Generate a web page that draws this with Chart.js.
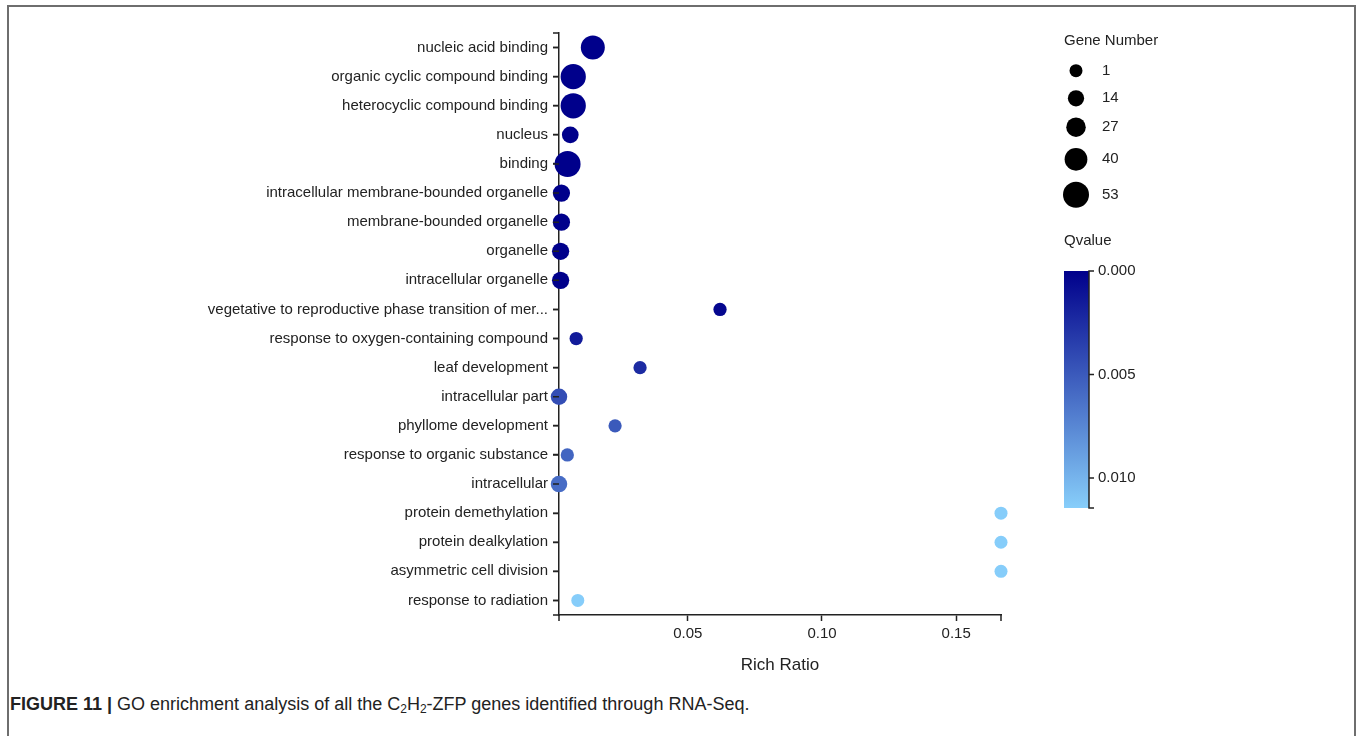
<!DOCTYPE html>
<html>
<head>
<meta charset="utf-8">
<script src="https://cdn.jsdelivr.net/npm/chart.js@4.4.1/dist/chart.umd.min.js"></script>
<style>
    body { margin: 0; background: #fff; width: 1357px; height: 736px; overflow: hidden; position: relative; }
    #frame { position: absolute; left: 7px; top: 5px; width: 1349px; height: 800px; border: 2px solid #6e6e6e; box-sizing: border-box; }
    #mainCanvas { position: absolute; left: 0; top: 0; }
    #caption { position: absolute; left: 10px; top: 694px; font-family: "Liberation Sans", Arial, sans-serif; font-size: 18px; color: #222; white-space: nowrap; }
    #caption b { font-weight: bold; }
    #caption sub { font-size: 12px; vertical-align: -3px; line-height: 0; }
</style>
</head>
<body>
<div id="frame"></div>
<canvas id="mainCanvas" width="1357" height="690"></canvas>
<div id="caption"><b>FIGURE 11 |</b> GO enrichment analysis of all the C<sub>2</sub>H<sub>2</sub>-ZFP genes identified through RNA-Seq.</div>
<script>
const terms = [
    "nucleic acid binding",
    "organic cyclic compound binding",
    "heterocyclic compound binding",
    "nucleus",
    "binding",
    "intracellular membrane-bounded organelle",
    "membrane-bounded organelle",
    "organelle",
    "intracellular organelle",
    "vegetative to reproductive phase transition of mer...",
    "response to oxygen-containing compound",
    "leaf development",
    "intracellular part",
    "phyllome development",
    "response to organic substance",
    "intracellular",
    "protein demethylation",
    "protein dealkylation",
    "asymmetric cell division",
    "response to radiation"
];
const richRatio = [0.0146, 0.0073, 0.0073, 0.0062, 0.0052, 0.0029, 0.0029, 0.0026, 0.0026, 0.0620,
                   0.0084, 0.0322, 0.0020, 0.0229, 0.0051, 0.0020, 0.1667, 0.1667, 0.1667, 0.0090];
const geneNumber = [45, 50, 50, 16, 53, 18, 18, 18, 18, 2, 2, 2, 15, 2, 2, 15, 1, 1, 1, 1];
const qValue = [0.00001, 0.00001, 0.00001, 0.00002, 0.00001, 0.00002, 0.00002, 0.00002, 0.00002, 0.0004,
                0.0015, 0.0024, 0.0043, 0.0050, 0.0056, 0.0060, 0.0114, 0.0114, 0.0114, 0.0114];

const geneLegend = [1, 14, 27, 40, 53];
const qTicks = [0, 0.005, 0.010];
const qRange = [0, 0.01145];
const xTicks = [0.05, 0.10, 0.15];

const AXIS_COLOR = "#222";
const TEXT_COLOR = "#222";
const FONT = '"Liberation Sans", Arial, sans-serif';
const LOW = [0, 0, 139];       // darkblue
const HIGH = [135, 206, 250];  // lightskyblue

function qColor(q) {
    let t = (q - qRange[0]) / (qRange[1] - qRange[0]);
    t = Math.max(0, Math.min(1, t));
    const c = LOW.map((v, i) => Math.round(v + (HIGH[i] - v) * t));
    return "rgb(" + c.join(",") + ")";
}

function rScale(n) {
    const lo = geneLegend[0], hi = geneLegend[geneLegend.length - 1];
    return 6.5 + (n - lo) * (13 - 6.5) / (hi - lo);
}

// end ticks of both axes plus the size legend and the Qvalue colour bar
const sideLegend = {
    id: 'sideLegend',
    afterDraw(chart) {
        const ctx = chart.ctx;
        const a = chart.chartArea;
        ctx.save();
        ctx.strokeStyle = AXIS_COLOR;
        ctx.lineWidth = 1.5;
        ctx.beginPath();
        ctx.moveTo(a.left, a.bottom); ctx.lineTo(a.left, a.bottom + 6);
        ctx.moveTo(a.right, a.bottom); ctx.lineTo(a.right, a.bottom + 6);
        ctx.moveTo(a.left, a.top); ctx.lineTo(a.left - 6, a.top);
        ctx.moveTo(a.left, a.bottom); ctx.lineTo(a.left - 6, a.bottom);
        // category ticks, drawn again so they stay crisp
        const ys = chart.scales.y;
        terms.forEach((t, i) => {
            const py = ys.getPixelForValue(i);
            ctx.moveTo(a.left, py); ctx.lineTo(a.left - 6, py);
        });
        ctx.stroke();

        ctx.font = "15px " + FONT;
        ctx.fillStyle = TEXT_COLOR;
        ctx.textBaseline = "middle";
        ctx.textAlign = "left";

        // Gene Number
        const lx = 1064;
        ctx.fillText("Gene Number", lx, 41);
        let cy = 70.7;
        geneLegend.forEach((n, i) => {
            const r = rScale(n);
            if (i > 0) cy += rScale(geneLegend[i - 1]) + r + (i === 1 ? 13 : 11);
            ctx.beginPath();
            ctx.arc(1076, cy, r, 0, Math.PI * 2);
            ctx.fillStyle = "#000";
            ctx.fill();
            ctx.fillStyle = TEXT_COLOR;
            ctx.fillText(String(n), 1102, cy);
        });

        // Qvalue colour bar
        ctx.fillText("Qvalue", lx, 241);
        const top = 271, bottom = 508, x0 = 1064, x1 = 1089;
        const grad = ctx.createLinearGradient(0, top, 0, bottom);
        grad.addColorStop(0, qColor(qRange[0]));
        grad.addColorStop(1, qColor(qRange[1]));
        ctx.fillStyle = grad;
        ctx.fillRect(x0, top, x1 - x0, bottom - top);

        const qy = q => top + (q - qRange[0]) / (qRange[1] - qRange[0]) * (bottom - top);
        ctx.strokeStyle = AXIS_COLOR;
        ctx.beginPath();
        ctx.moveTo(x1 + 5, top); ctx.lineTo(x1, top); ctx.lineTo(x1, bottom); ctx.lineTo(x1 + 5, bottom);
        qTicks.forEach(q => { ctx.moveTo(x1, qy(q)); ctx.lineTo(x1 + 5, qy(q)); });
        ctx.stroke();
        ctx.fillStyle = TEXT_COLOR;
        qTicks.forEach(q => ctx.fillText(q.toFixed(3), 1098, qy(q)));
        ctx.restore();
    }
};

function initChart() {
    Chart.defaults.font.family = FONT;
    Chart.defaults.font.size = 15;
    Chart.defaults.color = TEXT_COLOR;

    const points = terms.map((t, i) => ({x: richRatio[i], y: t, r: rScale(geneNumber[i])}));

    new Chart(document.getElementById('mainCanvas'), {
        type: 'bubble',
        data: {
            datasets: [{
                data: points,
                backgroundColor: points.map((p, i) => qColor(qValue[i])),
                borderWidth: 0,
                clip: false
            }]
        },
        options: {
            responsive: false,
            animation: false,
            events: [],
            layout: {padding: {top: 33, right: 356, bottom: 14, left: 0}},
            plugins: {legend: {display: false}, tooltip: {enabled: false}},
            scales: {
                x: {
                    type: 'linear',
                    z: 1,
                    min: Math.min(...richRatio),
                    max: Math.max(...richRatio),
                    afterBuildTicks: s => { s.ticks = xTicks.map(v => ({value: v})); },
                    afterFit: s => { s.height = 61; },
                    grid: {drawOnChartArea: false, tickLength: 6, color: AXIS_COLOR, tickWidth: 1.5},
                    border: {color: AXIS_COLOR, width: 1.5},
                    ticks: {padding: 4, color: TEXT_COLOR, callback: v => v.toFixed(2)},
                    title: {display: true, text: 'Rich Ratio', font: {size: 17}, color: TEXT_COLOR, padding: {top: 6, bottom: 0}}
                },
                y: {
                    type: 'category',
                    labels: terms,
                    offset: true,
                    z: 1,
                    afterFit: s => { s.width = 559; },
                    grid: {drawOnChartArea: false, tickLength: 6, color: AXIS_COLOR, tickWidth: 1.5},
                    border: {color: AXIS_COLOR, width: 1.5},
                    ticks: {autoSkip: false, padding: 5, color: TEXT_COLOR}
                }
            }
        },
        plugins: [sideLegend]
    });
}

initChart();
</script>
</body>
</html>
